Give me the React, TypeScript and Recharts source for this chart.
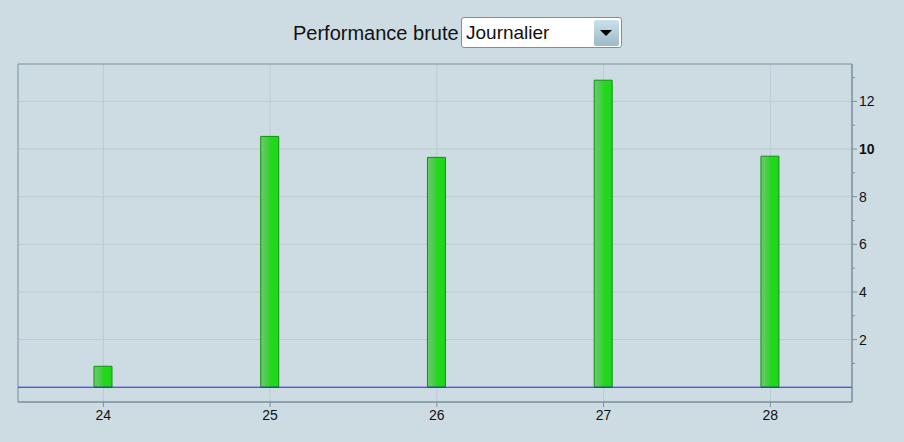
import { BarChart, Bar, XAxis, YAxis, CartesianGrid, ReferenceLine, ReferenceArea } from 'recharts';

// daily raw performance
const days = [24, 25, 26, 27, 28];
const perf = [0.88, 10.53, 9.65, 12.89, 9.7];

const yTicks = [1, 2, 3, 4, 5, 6, 7, 8, 9, 10, 11, 12, 13];
const yLabels = [2, 4, 6, 8, 10, 12];
const yDomain = [-0.62, 13.57];
const xDomain = [23.488, 28.49];

const data = days.map((d, i) => ({ day: d, value: perf[i] }));

const YTick = (props: any) => {
  const { x, y, payload } = props;
  const v = payload.value;
  const major = yLabels.includes(v);
  return (
    <g>
      <line x1={x} x2={x + (major ? 5 : 3)} y1={y} y2={y} stroke="#7a8f99" />
      {major && (
        <text x={x + 7} y={y} dy="0.36em" fontSize={14} fill="#111" fontWeight={v === 10 ? 'bold' : 'normal'}>
          {v}
        </text>
      )}
    </g>
  );
};

export default function App() {
  return (
    <div style={{ position: 'absolute', left: 0, top: 0, width: 904, height: 442, background: '#cddce3', fontFamily: 'Liberation Sans, Arial, sans-serif' }}>
      {/* header */}
      <div style={{ position: 'absolute', left: 293, top: 19, fontSize: 20, color: '#111', lineHeight: '28px' }}>Performance brute</div>
      <div style={{ position: 'absolute', left: 461, top: 17, width: 159, height: 29, background: '#fff', border: '1px solid #7f8f99', borderRadius: 3 }}>
        <span style={{ position: 'absolute', left: 4, top: 1, fontSize: 19, color: '#111', lineHeight: '27px' }}>Journalier</span>
        <div style={{ position: 'absolute', left: 132, top: 2, width: 25, height: 26, borderRadius: 2, background: 'linear-gradient(#c8e2ee, #9bbac6)' }}>
          <div style={{ position: 'absolute', left: 6, top: 10, width: 0, height: 0, borderLeft: '6px solid transparent', borderRight: '6px solid transparent', borderTop: '6px solid #000' }} />
        </div>
      </div>

      <div style={{ position: 'absolute', left: 0, top: 0 }}>
        <BarChart width={904} height={442} data={data} margin={{ top: 64, right: 0, bottom: 0, left: 18 }}>
          <defs>
            <linearGradient id="barFill" x1="0" y1="0" x2="1" y2="0">
              <stop offset="0%" stopColor="#6acb6a" />
              <stop offset="45%" stopColor="#3fcd3f" />
              <stop offset="50%" stopColor="#22d91c" />
              <stop offset="100%" stopColor="#1ed61a" />
            </linearGradient>
          </defs>
          <CartesianGrid stroke="#bccad2" horizontalValues={yLabels} verticalValues={days} />
          <XAxis
            dataKey="day"
            type="number"
            domain={xDomain}
            ticks={days}
            height={40}
            axisLine={{ stroke: '#7a8f99' }}
            tickLine={{ stroke: '#7a8f99' }}
            tickSize={5}
            tickMargin={3}
            tick={{ fill: '#111', fontSize: 14 }}
            allowDataOverflow
          />
          <YAxis
            orientation="right"
            type="number"
            domain={yDomain}
            ticks={yTicks}
            width={52}
            axisLine={{ stroke: '#7a8f99' }}
            tickLine={false}
            tickSize={0}
            tickMargin={0}
            tick={<YTick />}
            interval={0}
            allowDataOverflow
          />
          <ReferenceArea x1={xDomain[0]} x2={xDomain[1]} y1={yDomain[0]} y2={yDomain[1]} fill="none" stroke="#7a8f99" ifOverflow="visible" />
          <Bar dataKey="value" barSize={18} fill="url(#barFill)" stroke="#0e930e" strokeWidth={1} isAnimationActive={false} />
          <ReferenceLine y={0} stroke="#2424dc" strokeWidth={1} />
        </BarChart>
      </div>
    </div>
  );
}
